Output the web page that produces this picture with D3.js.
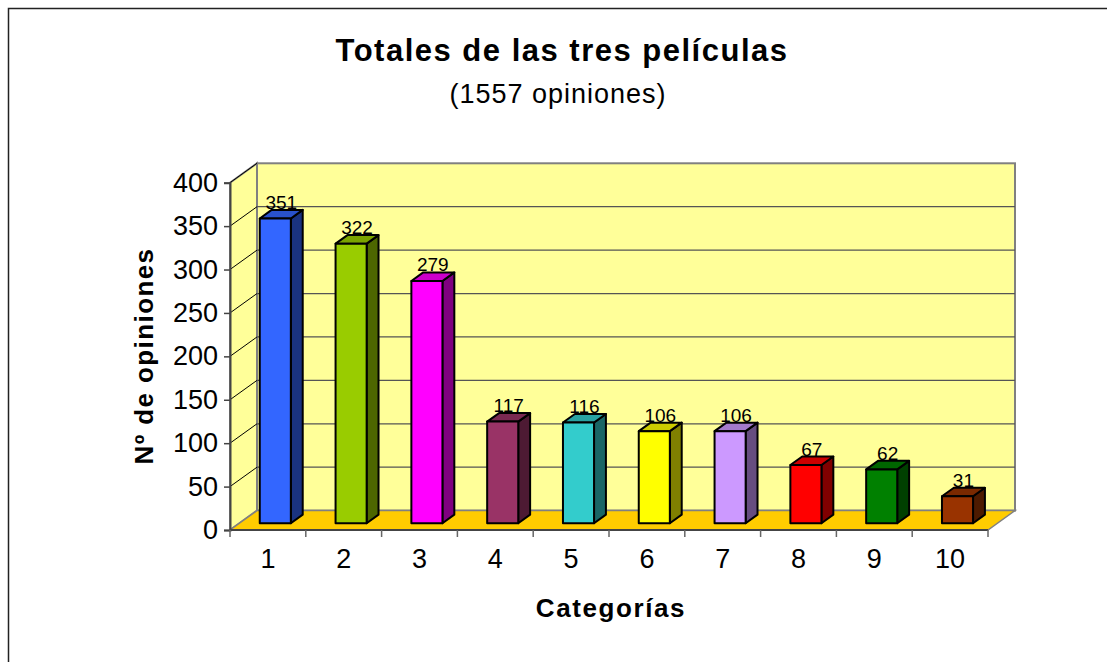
<!DOCTYPE html>
<html>
<head>
<meta charset="utf-8">
<script src="https://cdn.jsdelivr.net/npm/d3@7"></script>
<style>
  body { margin: 0; background: #fff; }
  svg text { font-family: Arial, "Liberation Sans", sans-serif; fill: #000; }
</style>
</head>
<body>
<svg id="chart" width="1107" height="662"></svg>
<script>
var categories = ["1", "2", "3", "4", "5", "6", "7", "8", "9", "10"];
var values = [351, 322, 279, 117, 116, 106, 106, 67, 62, 31];
var barColors = ["#3366FF", "#99CC00", "#FF00FF", "#993366", "#33CCCC",
                 "#FFFF00", "#CC99FF", "#FF0000", "#008000", "#993300"];
var yTicks = [0, 50, 100, 150, 200, 250, 300, 350, 400];

var svg = d3.select("#chart");

// chart frame (runs off the right/bottom of the picture)
svg.append("rect")
  .attr("x", 8.5).attr("y", 8.5)
  .attr("width", 1200).attr("height", 800)
  .attr("fill", "none").attr("stroke", "#222").attr("stroke-width", 1.5);

// 3d depth of the plot box
var depth = {dx: 27, dy: -19.4};

var x = d3.scaleBand().domain(categories).range([230, 988]);
var y = d3.scaleLinear().domain([0, 400]).range([530, 182.7]);

var x0 = x.range()[0], x1 = x.range()[1];
var y0 = y(0), yTop = y(400);
var bw = x.bandwidth();

function shade(c, k) {
  var r = d3.rgb(c);
  return d3.rgb(r.r * k, r.g * k, r.b * k).toString();
}
function pts(a) { return a.map(function (p) { return p.join(","); }).join(" "); }

// side wall
svg.append("polygon")
  .attr("points", pts([[x0, y0], [x0, yTop], [x0 + depth.dx, yTop + depth.dy], [x0 + depth.dx, y0 + depth.dy]]))
  .attr("fill", "#FFFF99").attr("stroke", "#808080").attr("stroke-width", 2);

// back wall
svg.append("rect")
  .attr("x", x0 + depth.dx).attr("y", yTop + depth.dy)
  .attr("width", x1 - x0).attr("height", y0 - yTop)
  .attr("fill", "#FFFF99").attr("stroke", "#808080").attr("stroke-width", 2);

// gridlines on back wall + diagonals on side wall
var grid = svg.append("g");
grid.selectAll("line.h")
  .data(yTicks.filter(function (d) { return d > 0 && d < 400; }))
  .enter().append("line")
  .attr("x1", x0 + depth.dx).attr("x2", x1 + depth.dx)
  .attr("y1", function (d) { return y(d) + depth.dy; })
  .attr("y2", function (d) { return y(d) + depth.dy; })
  .attr("stroke", "#555").attr("stroke-width", 1.2);
grid.selectAll("line.d")
  .data(yTicks.filter(function (d) { return d > 0; }))
  .enter().append("line")
  .attr("x1", x0).attr("x2", x0 + depth.dx)
  .attr("y1", function (d) { return y(d); })
  .attr("y2", function (d) { return y(d) + depth.dy; })
  .attr("stroke", "#000").attr("stroke-width", 1);

// floor
svg.append("polygon")
  .attr("points", pts([[x0, y0], [x1, y0], [x1 + depth.dx, y0 + depth.dy], [x0 + depth.dx, y0 + depth.dy]]))
  .attr("fill", "#FFCC00").attr("stroke", "#808080").attr("stroke-width", 1.5);

// y axis
var yAxis = svg.append("g")
  .attr("transform", "translate(" + x0 + ",0)")
  .call(d3.axisLeft(y).tickValues(yTicks).tickSize(6).tickPadding(6));
yAxis.select(".domain").attr("stroke", "#444").attr("stroke-width", 2);
yAxis.selectAll(".tick line").attr("stroke", "#444").attr("stroke-width", 1.5);
yAxis.selectAll(".tick text")
  .style("font-size", "27px").style("font-family", "Arial, 'Liberation Sans', sans-serif")
  .attr("fill", "#000");

// x axis line and boundary ticks
svg.append("line")
  .attr("x1", x0).attr("x2", x1).attr("y1", y0).attr("y2", y0)
  .attr("stroke", "#444").attr("stroke-width", 2);
svg.selectAll("line.xt")
  .data(categories.concat(["end"]))
  .enter().append("line")
  .attr("x1", function (d, i) { return x0 + i * x.step(); })
  .attr("x2", function (d, i) { return x0 + i * x.step(); })
  .attr("y1", y0).attr("y2", y0 + 7)
  .attr("stroke", "#666").attr("stroke-width", 1.5);
svg.selectAll("text.xl")
  .data(categories)
  .enter().append("text")
  .attr("x", function (d) { return x(d) + bw / 2; })
  .attr("y", 568)
  .attr("text-anchor", "middle")
  .style("font-size", "27px")
  .text(function (d) { return d; });

// bars
var fT = 0.35, fD = 0.44;
var bars = svg.selectAll("g.bar")
  .data(values)
  .enter().append("g");

function geom(v, i) {
  var fx = x(categories[i]) + bw * 0.268 + depth.dx * fT;
  var w = bw * 0.41;
  var by = y(0) + depth.dy * fT;
  var ty = y(v) + depth.dy * fT;
  return {fx: fx, w: w, by: by, ty: ty, ddx: depth.dx * fD, ddy: depth.dy * fD};
}

bars.append("polygon")
  .attr("points", function (d, i) {
    var g = geom(d, i);
    return pts([[g.fx + g.w, g.by], [g.fx + g.w, g.ty], [g.fx + g.w + g.ddx, g.ty + g.ddy], [g.fx + g.w + g.ddx, g.by + g.ddy]]);
  })
  .attr("fill", function (d, i) { return shade(barColors[i], 0.5); });
bars.append("polygon")
  .attr("points", function (d, i) {
    var g = geom(d, i);
    return pts([[g.fx, g.ty], [g.fx + g.w, g.ty], [g.fx + g.w + g.ddx, g.ty + g.ddy], [g.fx + g.ddx, g.ty + g.ddy]]);
  })
  .attr("fill", function (d, i) { return shade(barColors[i], 0.8); });
bars.append("rect")
  .attr("x", function (d, i) { return geom(d, i).fx; })
  .attr("y", function (d, i) { return geom(d, i).ty; })
  .attr("width", function (d, i) { return geom(d, i).w; })
  .attr("height", function (d, i) { var g = geom(d, i); return g.by - g.ty; })
  .attr("fill", function (d, i) { return barColors[i]; });
bars.selectAll("polygon, rect")
  .attr("stroke", "#000").attr("stroke-width", 2).attr("stroke-linejoin", "round");

// value labels
bars.append("text")
  .attr("x", function (d, i) { var g = geom(d, i); return g.fx + g.w / 2 + g.ddx / 2; })
  .attr("y", function (d, i) { var g = geom(d, i); return g.ty + g.ddy - 1; })
  .attr("text-anchor", "middle")
  .style("font-size", "19px")
  .text(function (d) { return d; });

// titles
svg.append("text")
  .attr("x", 562).attr("y", 61)
  .attr("text-anchor", "middle")
  .style("font-size", "31px").style("font-weight", "bold").style("letter-spacing", "1.5px")
  .text("Totales de las tres películas");
svg.append("text")
  .attr("x", 558).attr("y", 103)
  .attr("text-anchor", "middle")
  .style("font-size", "27px").style("letter-spacing", "1px")
  .text("(1557 opiniones)");
svg.append("text")
  .attr("x", 611).attr("y", 617)
  .attr("text-anchor", "middle")
  .style("font-size", "26px").style("font-weight", "bold").style("letter-spacing", "1.6px")
  .text("Categorías");
svg.append("text")
  .attr("transform", "translate(153,356) rotate(-90)")
  .attr("text-anchor", "middle")
  .style("font-size", "26px").style("font-weight", "bold").style("letter-spacing", "1.4px")
  .text("Nº de opiniones");
</script>
</body>
</html>
